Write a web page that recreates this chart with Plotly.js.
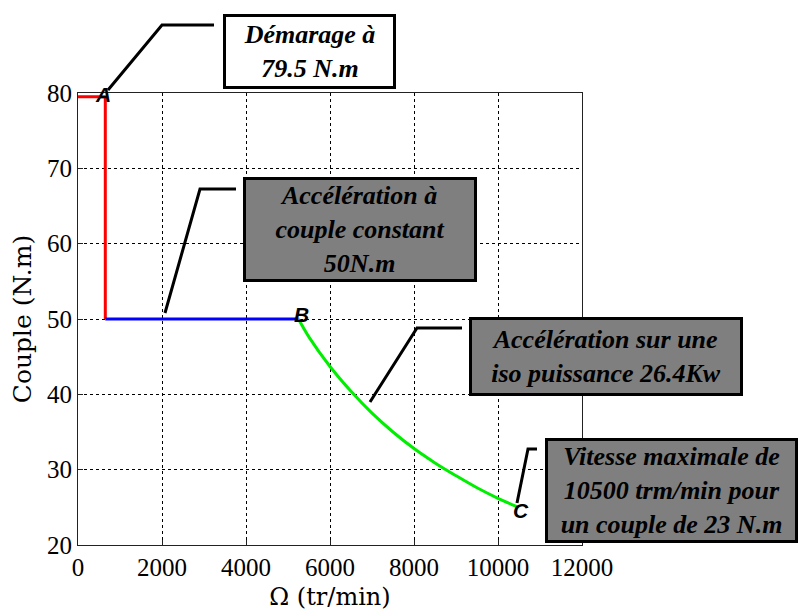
<!DOCTYPE html>
<html>
<head>
<meta charset="utf-8">
<script src="https://cdn.plot.ly/plotly-3.0.1.min.js"></script>
<style>html,body{margin:0;padding:0;background:#fff;}#chart{width:806px;height:615px;}</style>
</head>
<body>
<div id="chart"></div>
<script>
// ---- data ----
const startX = [0, 650, 650];
const startY = [79.5, 79.5, 50];
const constX = [650, 5250];
const constY = [50, 50];
const isoX = [5250, 5500, 6000, 6500, 7000, 7500, 8000, 8500, 9000, 9500, 10000, 10450];
const isoY = [50, 47.6, 43.7, 40.4, 37.5, 35.0, 32.8, 30.9, 29.2, 27.6, 26.2, 25.1];
const xTicks = [0, 2000, 4000, 6000, 8000, 10000, 12000];
const yTicks = [20, 30, 40, 50, 60, 70, 80];
const pointLabels = ['A', 'B', 'C'];
const pointX = [650, 5250, 10450];
const pointY = [79.5, 50, 25.1];
const boxTexts = [
  'Démarage à<br>79.5 N.m',
  'Accélération à<br>couple constant<br>50N.m',
  'Accélération sur une<br>iso puissance 26.4Kw',
  'Vitesse maximale de<br>10500 trm/min pour<br>un couple de 23 N.m'
];

// ---- layout geometry (pixels) ----
const L = 78, R = 582, T = 93, B = 545;
const px = X => (X - L) / (R - L);
const py = Y => (B - Y) / (B - T);

const boxes = [
  {x0: 223, x1: 396, y0: 14, y1: 89, bg: '#ffffff'},
  {x0: 243, x1: 477, y0: 177, y1: 282, bg: '#7f7f7f'},
  {x0: 469, x1: 743, y0: 317, y1: 396, bg: '#7f7f7f'},
  {x0: 545, x1: 798, y0: 438, y1: 543, bg: '#7f7f7f'}
];
const leaders = [
  [[214, 25], [162, 25], [108, 90]],
  [[236, 189], [200, 189], [165, 313]],
  [[462, 328], [417, 328], [370, 402]],
  [[537, 449], [528, 449], [517, 503]]
];

const boxFont = {family: 'Liberation Serif', size: 26, color: '#000', weight: 'bold', style: 'italic'};

const annotations = boxTexts.map((t, i) => {
  const b = boxes[i];
  return {
    xref: 'paper', yref: 'paper',
    x: px((b.x0 + b.x1) / 2), y: py((b.y0 + b.y1) / 2),
    xanchor: 'center', yanchor: 'middle',
    text: t, showarrow: false,
    width: b.x1 - b.x0 - 6, height: b.y1 - b.y0 - 6,
    bgcolor: b.bg, bordercolor: '#000', borderwidth: 3, borderpad: 0,
    font: boxFont, align: 'center'
  };
});
const lblOffsets = [[-2, 2], [3, 5], [4, -4]];
pointLabels.forEach((p, i) => {
  annotations.push({
    xref: 'x', yref: 'y', x: pointX[i], y: pointY[i],
    text: p, showarrow: false,
    xshift: lblOffsets[i][0], yshift: lblOffsets[i][1],
    font: {family: 'Liberation Sans', size: 21, color: '#000', weight: 'bold', style: 'italic'}
  });
});

const shapes = leaders.map(pts => ({
  type: 'path', xref: 'paper', yref: 'paper',
  path: 'M' + pts.map(p => px(p[0]) + ',' + py(p[1])).join(' L'),
  line: {color: '#000', width: 3}
}));

const traces = [
  {x: startX, y: startY, mode: 'lines', line: {color: '#ff0000', width: 3}, cliponaxis: false},
  {x: constX, y: constY, mode: 'lines', line: {color: '#0000ff', width: 3}},
  {x: isoX, y: isoY, mode: 'lines', line: {color: '#00ee00', width: 3, shape: 'spline'}}
];

const axisCommon = {
  showline: true, mirror: true, linecolor: '#222', linewidth: 1,
  ticks: 'inside', ticklen: 5, tickcolor: '#222',
  showgrid: true, gridcolor: '#000', gridwidth: 1, griddash: '3px,3px',
  zeroline: false,
  tickfont: {family: 'Liberation Serif', size: 25, color: '#000'}
};

const layout = {
  width: 806, height: 615,
  margin: {l: L, r: 806 - R, t: T, b: 615 - B, pad: 0},
  paper_bgcolor: '#fff', plot_bgcolor: '#fff',
  showlegend: false,
  xaxis: Object.assign({}, axisCommon, {
    range: [0, 12000], tickvals: xTicks, ticktext: xTicks.map(String),
    title: {text: 'Ω (tr/min)', font: {family: 'DejaVu Serif', size: 24, color: '#000'}, standoff: 8}
  }),
  yaxis: Object.assign({}, axisCommon, {
    range: [20, 80], tickvals: yTicks, ticktext: yTicks.map(String),
    title: {text: 'Couple (N.m)', font: {family: 'DejaVu Serif', size: 25, color: '#000'}, standoff: 8}
  }),
  annotations: annotations,
  shapes: shapes
};

Plotly.newPlot('chart', traces, layout, {staticPlot: true});
</script>
</body>
</html>
